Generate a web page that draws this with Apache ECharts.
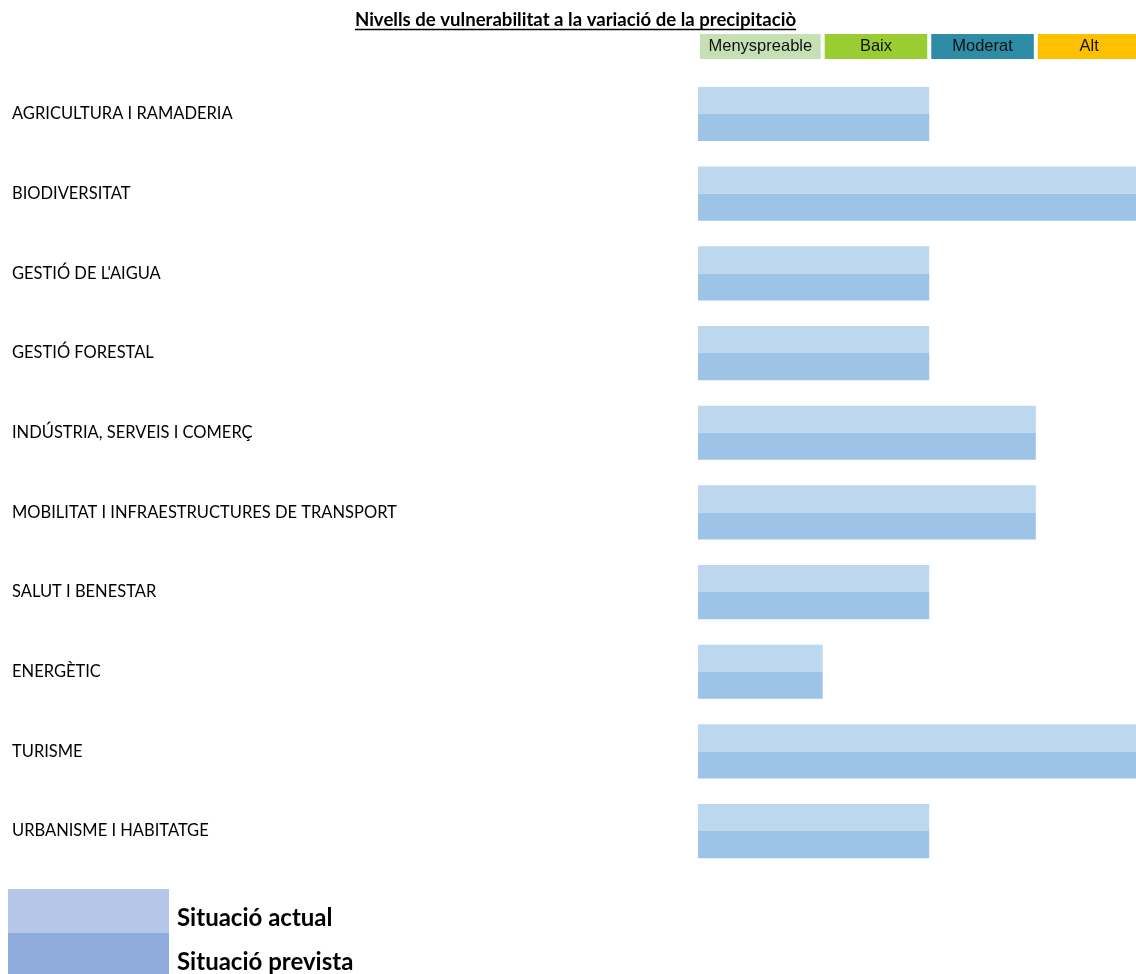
<!DOCTYPE html>
<html>
<head>
<meta charset="utf-8">
<script src="https://cdn.jsdelivr.net/npm/echarts@6/dist/echarts.min.js"></script>
<style>html,body{margin:0;padding:0;background:#fff}#c{width:1136px;height:974px}</style>
</head>
<body>
<div id="c"></div>
<script>
// ---- data ----
const titleText = "Nivells de vulnerabilitat a la variació de la precipitaciò";
const categories = [
  "AGRICULTURA I RAMADERIA",
  "BIODIVERSITAT",
  "GESTIÓ DE L'AIGUA",
  "GESTIÓ FORESTAL",
  "INDÚSTRIA, SERVEIS I COMERÇ",
  "MOBILITAT I INFRAESTRUCTURES DE TRANSPORT",
  "SALUT I BENESTAR",
  "ENERGÈTIC",
  "TURISME",
  "URBANISME I HABITATGE"
];
// levels: 1 = Menyspreable, 2 = Baix, 3 = Moderat, 4 = Alt
const actualValues   = [2, 4, 2, 2, 3, 3, 2, 1, 4, 2];
const previstaValues = [2, 4, 2, 2, 3, 3, 2, 1, 4, 2];
const levelNames  = ["Menyspreable", "Baix", "Moderat", "Alt"];
const levelValues = [1, 2, 3, 4];
const seriesNames = ["Situació actual", "Situació prevista"];

// ---- layout / style ----
const X_MIN = -0.17, X_MAX = 3.94;
const levelColors = ["#C5E0B4", "#9ACD32", "#2E8CA6", "#FFC000"];
const barColors = ["#BDD7EE", "#9DC3E6"];
const legendColors = ["#B4C7E7", "#8FAADC"];
const FONT = "Lato, 'Open Sans', sans-serif";
const TITLE_SIZE = 18.6;

const chart = echarts.init(document.getElementById('c'), null, {renderer: 'canvas'});

function barRender(pos) {
  return function (params, api) {
    const cat = api.value(0), val = api.value(1);
    const s = api.coord([X_MIN, cat]);
    const e = api.coord([val, cat]);
    const band = api.size([0, 1])[1];
    const h = band * 0.34;
    const y = pos === 0 ? s[1] - h : s[1];
    return {type: 'rect', shape: {x: s[0], y: y, width: e[0] - s[0], height: h}, style: api.style()};
  };
}

function levelRender(params, api) {
  const lo = api.value(0), hi = api.value(1);
  const s = api.coord([lo, 0]);
  const e = api.coord([hi, 0]);
  const h = api.size([0, 1])[1];
  const x0 = s[0] + 2, x1 = e[0] - 2;
  return {
    type: 'rect',
    shape: {x: x0, y: s[1] - h / 2, width: x1 - x0, height: h},
    style: {fill: levelColors[params.dataIndex]},
    textContent: {style: {text: levelNames[params.dataIndex], fill: '#111', font: "16.5px 'Liberation Sans', Arial, sans-serif"}},
    textConfig: {position: 'inside'}
  };
}

// measure title width for underline
const ctx = document.createElement('canvas').getContext('2d');
ctx.font = "bold " + TITLE_SIZE + "px " + FONT;
const tw = ctx.measureText(titleText).width;
const titleCx = 575.5;

const levelData = levelValues.map((v, i) => [i === 0 ? X_MIN : levelValues[i - 1], v]);

chart.setOption({
  animation: false,
  backgroundColor: '#fff',
  title: {
    text: titleText,
    left: titleCx - tw / 2,
    top: 10,
    padding: 0,
    textStyle: {fontFamily: FONT, fontWeight: 'bold', fontSize: TITLE_SIZE, color: '#000'}
  },
  graphic: [{
    type: 'line',
    shape: {x1: titleCx - tw / 2, y1: 29.5, x2: titleCx + tw / 2, y2: 29.5},
    style: {stroke: '#000', lineWidth: 1.5}
  }],
  legend: {
    orient: 'vertical',
    left: 8,
    top: 889,
    height: 150,
    itemGap: 0,
    itemWidth: 161,
    itemHeight: 44,
    icon: 'rect',
    selectedMode: false,
    padding: 0,
    data: [
      {name: seriesNames[0], itemStyle: {color: legendColors[0]}},
      {name: seriesNames[1], itemStyle: {color: legendColors[1]}}
    ],
    formatter: function (name) { return '{t|' + name + '}'; },
    textStyle: {
      fontFamily: FONT, fontWeight: 'bold', fontSize: 24, color: '#000',
      rich: {t: {fontFamily: FONT, fontWeight: 'bold', fontSize: 24, color: '#000', padding: [14, 0, 0, 3]}}
    }
  },
  grid: [
    {left: 698, right: 0, top: 74.2, height: 796.7},
    {left: 698, right: 0, top: 34, height: 25}
  ],
  xAxis: [
    {type: 'value', gridIndex: 0, min: X_MIN, max: X_MAX, show: false},
    {type: 'value', gridIndex: 1, min: X_MIN, max: X_MAX, show: false}
  ],
  yAxis: [
    {
      type: 'category', gridIndex: 0, data: categories, inverse: true,
      axisLine: {show: false}, axisTick: {show: false}, splitLine: {show: false},
      axisLabel: {align: 'left', margin: 686, fontFamily: FONT, fontSize: 16.5, color: '#000'}
    },
    {type: 'category', gridIndex: 1, data: ['niv'], show: false}
  ],
  series: [
    {
      name: seriesNames[0], type: 'custom', xAxisIndex: 0, yAxisIndex: 0,
      itemStyle: {color: barColors[0]},
      renderItem: barRender(0),
      encode: {x: 1, y: 0},
      data: actualValues.map((v, i) => [i, v])
    },
    {
      name: seriesNames[1], type: 'custom', xAxisIndex: 0, yAxisIndex: 0,
      itemStyle: {color: barColors[1]},
      renderItem: barRender(1),
      encode: {x: 1, y: 0},
      data: previstaValues.map((v, i) => [i, v])
    },
    {
      name: 'Nivells', type: 'custom', xAxisIndex: 1, yAxisIndex: 1,
      renderItem: levelRender,
      encode: {x: [0, 1]},
      data: levelData
    }
  ]
});
</script>
</body>
</html>
